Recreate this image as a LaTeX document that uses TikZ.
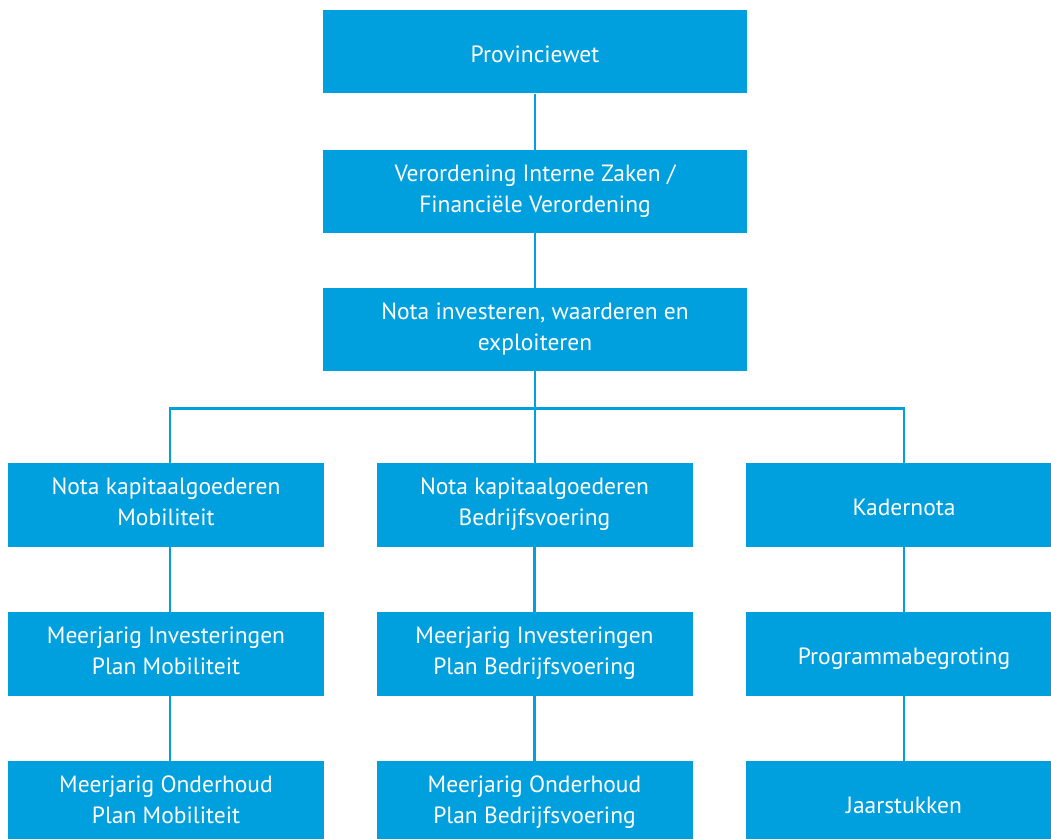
\documentclass[tikz,border=0pt]{standalone}
\usepackage{fontspec}
\setmainfont{PT Sans}
\definecolor{boxblue}{RGB}{0,159,221}
\begin{document}
\begin{tikzpicture}[x=1bp,y=-1bp,
  box/.style={rectangle,fill=boxblue,draw=none,text=white,align=center,
    minimum width=316bp,minimum height=83.5bp,inner sep=0pt,
    font=\fontsize{23.5bp}{31.6bp}\selectfont,
    execute at begin node={\rule{0pt}{25bp}},
    execute at end node={\rule[-6bp]{0pt}{6bp}}},
  one/.style={execute at begin node={\rule{0pt}{27.8bp}}},
  wide/.style={minimum width=424bp},
  conn/.style={draw=boxblue,line width=2.6bp}]
\useasboundingbox (0,0) rectangle (1051,839);
\node[box,wide,one] (pw) at (535,51.7) {Provinciewet};
\node[box,wide] (vo) at (535,191.5) {Verordening Interne Zaken /\\Financiële Verordening};
\node[box,wide] (ni) at (535,329.5) {Nota investeren, waarderen en\\exploiteren};
\node[box] (k1) at (166,504.8) {Nota kapitaalgoederen\\Mobiliteit};
\node[box] (k2) at (534.5,504.8) {Nota kapitaalgoederen\\Bedrijfsvoering};
\node[box,one] (k3) at (904,504.8) {Kadernota};
\node[box] (m1) at (166,653.8) {Meerjarig Investeringen\\Plan Mobiliteit};
\node[box] (m2) at (534.5,653.8) {Meerjarig Investeringen\\Plan Bedrijfsvoering};
\node[box,one] (m3) at (904,653.8) {Programmabegroting};
\node[box] (o1) at (166,802.7) {Meerjarig Onderhoud\\Plan Mobiliteit};
\node[box] (o2) at (534.5,802.7) {Meerjarig Onderhoud\\Plan Bedrijfsvoering};
\node[box,one] (o3) at (904,802.7) {Jaarstukken};
\coordinate (bus) at (535,408.3);
\draw[conn] (pw.south) -- (vo.north);
\draw[conn] (vo.south) -- (ni.north);
\draw[conn] (ni.south) -- (k2.north -| ni.south);
\draw[conn] ([xshift=4bp]k1.north) |- (bus) -| (k3.north);
\draw[conn] ([xshift=4bp]k1.south) -- ([xshift=4bp]m1.north);
\draw[conn] ([xshift=4bp]m1.south) -- ([xshift=4bp]o1.north);
\draw[conn] (k2.south) -- (m2.north);
\draw[conn] (m2.south) -- (o2.north);
\draw[conn] (k3.south) -- (m3.north);
\draw[conn] (m3.south) -- (o3.north);
\end{tikzpicture}
\end{document}
